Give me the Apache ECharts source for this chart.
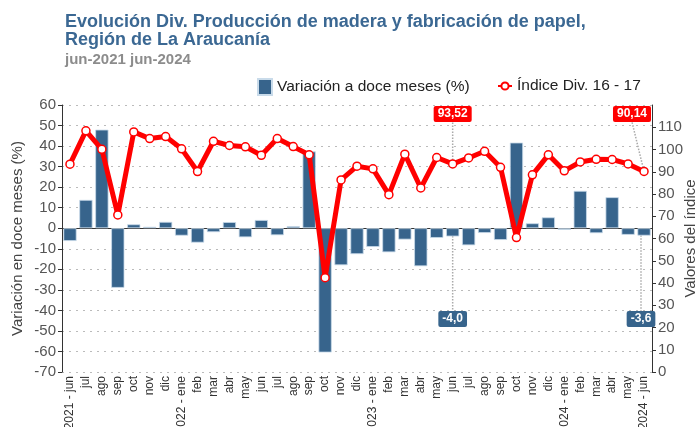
<!DOCTYPE html>
<html>
<head>
<meta charset="utf-8">
<script src="https://cdn.jsdelivr.net/npm/echarts@6/dist/echarts.min.js"></script>
<style>
  html, body { margin: 0; padding: 0; background: #fff; }
  #chart { width: 699px; height: 427px; }
</style>
</head>
<body>
<div id="chart"></div>
<script>
const categories = [
  '2021 - jun', 'jul', 'ago', 'sep', 'oct', 'nov', 'dic',
  '2022 - ene', 'feb', 'mar', 'abr', 'may', 'jun', 'jul', 'ago', 'sep', 'oct', 'nov', 'dic',
  '2023 - ene', 'feb', 'mar', 'abr', 'may', 'jun', 'jul', 'ago', 'sep', 'oct', 'nov', 'dic',
  '2024 - ene', 'feb', 'mar', 'abr', 'may', '2024 - jun'
]
const variacion = [
  -6.2, 13.8, 48.0, -29.0, 1.9, 0.7, 3.1,
  -3.6, -7.0, -1.9, 3.0, -4.4, 4.0, -3.4, 1.0, 37.4, -60.5, -18.0, -12.6,
  -9.1, -11.7, -5.5, -18.5, -4.7, -4.0, -8.3, -2.3, -5.7, 41.7, 2.4, 5.3,
  -0.8, 18.2, -2.4, 15.1, -3.2, -3.6
]
const indice = [
  93.4, 108.4, 100.1, 70.6, 107.9, 104.9, 105.8,
  100.3, 90.1, 103.7, 101.8, 101.2, 97.4, 104.9, 101.3, 97.6, 42.4, 86.3, 92.5,
  91.3, 79.7, 97.9, 82.7, 96.4, 93.52, 96.2, 99.2, 92.0, 60.4, 88.6, 97.6,
  90.4, 94.4, 95.6, 95.5, 93.5, 90.14
]
// months whose values get a callout
const labeled = [24, 36]

const chart = echarts.init(document.getElementById('chart'))

const fmt = (v, d) => v.toFixed(d).replace('.', ',')
const guide = { show: true, lineStyle: { color: '#aaa', type: 'dotted', width: 1.5 } }

const calloutBox = bg => ({
  show: true,
  backgroundColor: bg,
  color: '#fff',
  fontWeight: 'bold',
  fontSize: 12,
  padding: [2, 4],
  borderRadius: 2
})

const option = {
  animation: false,
  textStyle: { fontFamily: 'Liberation Sans, Arial, sans-serif' },
  title: {
    text: 'Evolución Div. Producción de madera y fabricación de papel,\nRegión de La Araucanía',
    subtext: 'jun-2021 jun-2024',
    left: 60,
    top: 8,
    itemGap: 3,
    textStyle: { fontSize: 18, fontWeight: 'bold', color: '#3b6893', lineHeight: 18 },
    subtextStyle: { fontSize: 15, fontWeight: 'bold', color: '#8c8c8c' }
  },
  legend: [
    {
      left: 252,
      top: 73,
      itemWidth: 14,
      itemHeight: 16,
      textStyle: { fontSize: 15.5, color: '#222' },
      data: [{ name: 'Variación a doce meses (%)', icon: 'rect' }]
    },
    {
      left: 492,
      top: 73,
      itemWidth: 14,
      itemHeight: 9,
      textStyle: { fontSize: 15.5, color: '#222', padding: [3, 0, 0, 0] },
      data: [{ name: 'Índice Div. 16 - 17' }]
    }
  ],
  grid: { left: 62, right: 47, top: 105, bottom: 55, outerBoundsMode: 'none' },
  xAxis: {
    type: 'category',
    data: categories,
    axisLine: { lineStyle: { color: '#333' } },
    axisTick: { show: false },
    axisLabel: { rotate: 90, fontSize: 12, color: '#333', interval: 0, margin: 4 }
  },
  yAxis: [
    {
      type: 'value',
      min: -70,
      max: 60,
      interval: 10,
      name: 'Variación en doce meses (%)',
      nameLocation: 'middle',
      nameGap: 37,
      nameMoveOverlap: false,
      nameTextStyle: { fontSize: 15, color: '#444' },
      axisLine: { show: true, lineStyle: { color: '#333' } },
      axisTick: { show: true, length: 4 },
      axisLabel: { fontSize: 15, color: '#555', margin: 6 },
      splitLine: { lineStyle: { color: '#bbb', type: [2, 5] } }
    },
    {
      type: 'value',
      min: 0,
      max: 120,
      interval: 10,
      name: 'Valores del índice',
      nameLocation: 'middle',
      nameGap: 31,
      nameRotate: 90,
      nameMoveOverlap: false,
      nameTextStyle: { fontSize: 15, color: '#444' },
      axisLine: { show: true, lineStyle: { color: '#333' } },
      axisTick: { show: true, length: 4 },
      axisLabel: { fontSize: 15, color: '#555', margin: 6, showMaxLabel: false },
      splitLine: { show: false }
    }
  ],
  series: [
    {
      name: 'Variación a doce meses (%)',
      type: 'bar',
      yAxisIndex: 0,
      barCategoryGap: '17%',
      itemStyle: { color: '#37648c', borderColor: '#c9dbea', borderWidth: 0.8 },
      data: variacion.map((v, i) => labeled.includes(i) ? {
        value: v,
        label: Object.assign(calloutBox('#37648c'), {
          position: 'bottom',
          formatter: p => fmt(p.value, 1)
        }),
        labelLine: guide
      } : v),
      labelLayout: p => {
        if (!labeled.includes(p.dataIndex)) return {}
        const cx = p.rect.x + p.rect.width / 2
        if (p.dataIndex === 36) {
          return { x: 641, y: 319, align: 'center', verticalAlign: 'middle' }
        }
        // guide runs straight up to the index point of the same month
        let top = p.rect.y
        try {
          top = chart.convertToPixel({ yAxisIndex: 1 }, indice[p.dataIndex])
        } catch (e) {}
        return {
          x: cx, y: 319, align: 'center', verticalAlign: 'middle',
          labelLinePoints: [[cx, 310], [cx, (top + p.rect.y) / 2], [cx, top]]
        }
      }
    },
    {
      name: 'Índice Div. 16 - 17',
      type: 'line',
      yAxisIndex: 1,
      z: 5,
      symbol: 'circle',
      symbolSize: 8,
      lineStyle: { color: '#ff0000', width: 5 },
      itemStyle: { color: '#fff', borderColor: '#ff0000', borderWidth: 1.5 },
      data: indice.map((v, i) => labeled.includes(i) ? {
        value: v,
        label: Object.assign(calloutBox('#ff0000'), {
          position: 'top',
          formatter: p => fmt(p.value, 2)
        }),
        labelLine: guide
      } : v),
      labelLayout: p => labeled.includes(p.dataIndex)
        ? { y: 114, x: p.dataIndex === 36 ? 632 : p.rect.x + p.rect.width / 2, align: 'center', verticalAlign: 'middle' }
        : {}
    }
  ]
}

chart.setOption(option)
window.addEventListener('resize', () => chart.resize())
</script>
</body>
</html>
